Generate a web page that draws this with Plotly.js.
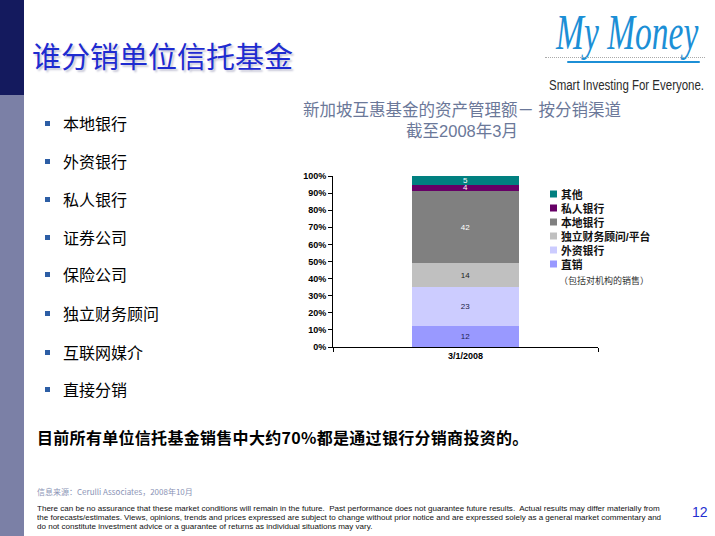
<!DOCTYPE html>
<html>
<head>
<meta charset="utf-8">
<script src="https://cdn.plot.ly/plotly-3.0.1.min.js"></script>
<style>
  html, body { margin:0; padding:0; background:#fff; }
  #page { position:relative; width:715px; height:536px; overflow:hidden; background:#fff; font-family:"Noto Sans CJK SC","Liberation Sans",sans-serif; }
  .abs { position:absolute; white-space:nowrap; }
  .bul { position:absolute; left:63px; font-size:16px; line-height:20px; color:#000; }
  .sq { position:absolute; left:45px; width:5px; height:5px; background:#2d5ea5; }
  #chart { position:absolute; left:0; top:0; width:715px; height:536px; }
</style>
</head>
<body>
<div id="page">
  <div class="abs" style="left:0;top:0;width:24px;height:95px;background:#141a5e"></div>
  <div class="abs" style="left:0;top:95px;width:24px;height:441px;background:#7b80a6"></div>

  <div class="abs" style="left:32px;top:38px;font-size:29px;line-height:34px;color:#1e2bd0;text-shadow:2px 2px 2px #c8c8d8;">谁分销单位信托基金</div>

  <!-- logo -->
  <div id="logo" class="abs" style="left:556px;top:4px;font-family:'Liberation Serif',serif;font-style:italic;font-size:50px;line-height:56px;color:#1c8fd6;transform-origin:0 0;">My Money</div>
  <div class="abs" style="left:545px;top:57px;width:160px;height:0;border-top:1px dotted #aaa;"></div>
  <div class="abs" style="left:567px;top:61px;width:133px;height:2px;background:#1c8fd6;border-radius:1px;"></div>
  <div id="tag" class="abs" style="left:549px;top:76px;font-family:'Liberation Sans Narrow','Liberation Sans',sans-serif;font-size:14px;line-height:18px;color:#2b2b2b;transform-origin:0 0;">Smart Investing For Everyone.</div>

  <div id="bullets"></div>

  <div id="stmt" class="abs" style="left:37px;top:427px;font-size:16px;font-weight:bold;line-height:20px;color:#000;letter-spacing:0.3px;">目前所有单位信托基金销售中大约70%都是通过银行分销商投资的。</div>
  <div class="abs" style="left:37px;top:486px;font-size:8px;line-height:12px;color:#8a93b5;">信息来源：Cerulli Associates，2008年10月</div>
  <div id="disc" class="abs" style="left:37px;top:504px;font-family:'Liberation Sans',sans-serif;font-size:8px;line-height:9px;color:#111;transform-origin:0 0;">There can be no assurance that these market conditions will remain in the future.&nbsp; Past performance does not guarantee future results.&nbsp; Actual results may differ materially from<br>the forecasts/estimates. Views, opinions, trends and prices expressed are subject to change without prior notice and are expressed solely as a general market commentary and<br>do not constitute investment advice or a guarantee of returns as individual situations may vary.</div>
  <div class="abs" style="left:692px;top:503px;font-family:'Liberation Sans',sans-serif;font-size:14px;line-height:18px;color:#1f2fd0;">12</div>

  <div id="chart"></div>
</div>
<script>
// ---- data ----
var bulletItems = ['本地银行','外资银行','私人银行','证券公司','保险公司','独立财务顾问','互联网媒介','直接分销'];
var categories = ['3/1/2008'];
var seriesNames = ['直销','外资银行','独立财务顾问/平台','本地银行','私人银行','其他'];
var seriesValues = [12, 23, 14, 42, 4, 5];
var seriesColors = ['#9999ff','#ccccff','#c0c0c0','#808080','#660066','#008080'];
var labelColors = ['#222255','#222244','#222222','#ffffff','#ffffff','#ffffff'];
var yTicks = [0,10,20,30,40,50,60,70,80,90,100];
var yTickLabels = ['0%','10%','20%','30%','40%','50%','60%','70%','80%','90%','100%'];
var chartTitle = '新加坡互惠基金的资产管理额－ 按分销渠道<br>截至2008年3月';
var legendNote = '（包括对机构的销售）';

// ---- bullets ----
var bulletY = [123,161,199,237,274,313,352,389];
var bh = '';
bulletItems.forEach(function(t,i){
  bh += '<div class="sq" style="top:'+(bulletY[i]-2)+'px"></div>';
  bh += '<div class="bul" style="top:'+(bulletY[i]-10)+'px">'+t+'</div>';
});
document.getElementById('bullets').innerHTML = bh;

function fitWidth(id, w){
  var el = document.getElementById(id);
  var cur = el.scrollWidth;
  if (cur > 0) el.style.transform = 'scaleX(' + (w/cur) + ')';
}
fitWidth('logo', 142);
fitWidth('tag', 155);
fitWidth('disc', 624);

// ---- chart ----
var L = 333, R = 598, T = 176, B = 347;
function px(x){ return (x - L) / (R - L); }
function py(y){ return (B - y) / (B - T); }
var mixFont = 'Liberation Sans, Noto Sans CJK SC, sans-serif';

var traces = seriesNames.map(function(n,i){
  return {
    type:'bar', name:n, x:categories, y:[seriesValues[i]],
    text:[String(seriesValues[i])], textposition:'inside', insidetextanchor:'middle',
    textangle:0, constraintext:'none',
    textfont:{family:'Liberation Sans, Arial, sans-serif', size:8, color:labelColors[i]},
    marker:{color:seriesColors[i], line:{width:0}},
    hoverinfo:'skip', showlegend:false
  };
});

var annotations = [], shapes = [];
var legendLines = [];
for (var k = 0; k < seriesNames.length; k++){
  var i = seriesNames.length - 1 - k;
  var yc = 194 + k*14;
  shapes.push({type:'rect', xref:'paper', yref:'paper', x0:px(550), x1:px(557), y0:py(yc+3.5), y1:py(yc-3.5),
    fillcolor:seriesColors[i], line:{width:0}});
  legendLines.push(seriesNames[i]);
}
annotations.push({xref:'paper', yref:'paper', x:px(560), y:py(229), xanchor:'left', yanchor:'middle', align:'left',
  showarrow:false, text:legendLines.join('<br>'), borderpad:0,
  font:{family:mixFont, size:10.8, weight:'bold', color:'#111'}});
annotations.push({xref:'paper', yref:'paper', x:px(558), y:py(280), xanchor:'left', yanchor:'middle',
  showarrow:false, text:legendNote, borderpad:0, font:{family:mixFont, size:9, color:'#333'}});

var layout = {
  width:715, height:536,
  margin:{l:L, r:715-R, t:T, b:536-B, pad:0},
  paper_bgcolor:'rgba(0,0,0,0)', plot_bgcolor:'rgba(0,0,0,0)',
  barmode:'stack', bargap:0.596,
  title:{text:chartTitle, x:462/715, xanchor:'center', y:1-116/536, yanchor:'top',
    font:{family:mixFont, size:16.5, color:'#6b7899'}},
  xaxis:{type:'category', showline:true, linecolor:'#000', linewidth:1, ticks:'outside', tickson:'boundaries',
    ticklen:4, tickcolor:'#000', showgrid:false, zeroline:false,
    tickfont:{family:'Liberation Sans, Arial', size:9, weight:'bold', color:'#000'}},
  yaxis:{range:[0,100], tickmode:'array', tickvals:yTicks, ticktext:yTickLabels, showline:true, linecolor:'#000', linewidth:1,
    ticks:'outside', ticklen:4, tickcolor:'#000', showgrid:false, zeroline:false,
    tickfont:{family:'Liberation Sans, Arial', size:9, weight:'bold', color:'#000'}},
  annotations:annotations, shapes:shapes, showlegend:false
};
Plotly.newPlot('chart', traces, layout, {staticPlot:true, displayModeBar:false});
</script>
</body>
</html>
